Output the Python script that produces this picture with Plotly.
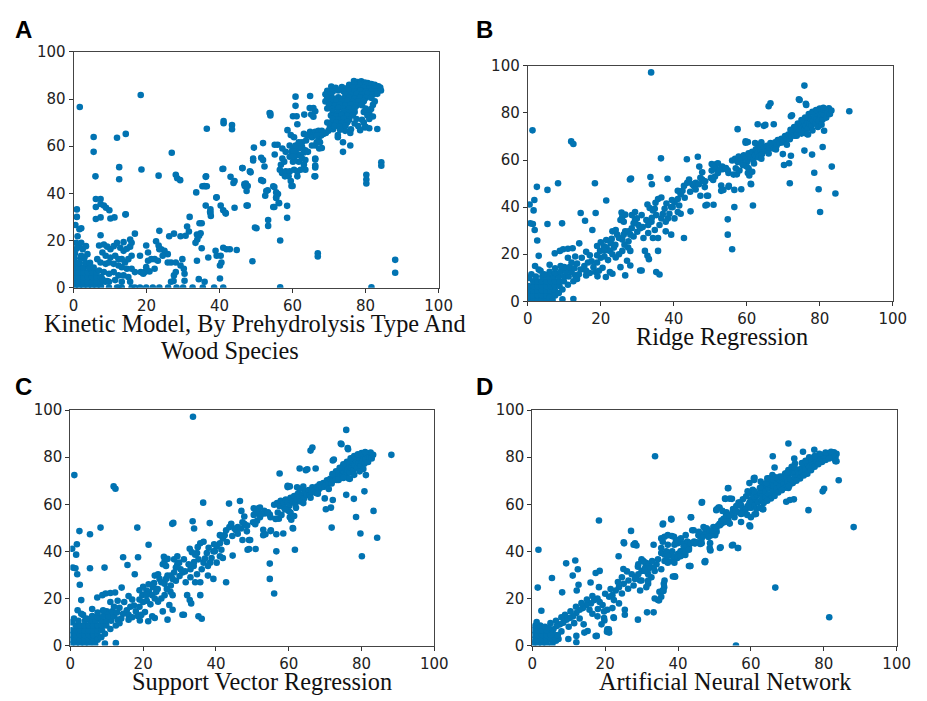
import plotly.graph_objects as go

# ---------------- data (x = model prediction, y = observed) ----------------
kinetic_points = [
    # sparse / outliers
    (1.7,76.6),(18.4,81.7),(5.5,63.9),(5.5,57.6),(6.0,47.2),(11.9,63.6),(14.3,65.2),(12.5,51.1),(12.5,46.0),
    (18.6,50.1),(14.2,31.0),(26.9,57.2),(23.3,47.5),(28.0,47.9),(28.4,46.4),(29.2,45.6),(36.5,67.4),(41.1,70.7),
    (41.1,69.7),(43.4,69.0),(43.4,67.2),(40.8,50.3),(33.6,40.4),(36.2,47.0),(35.3,43.0),(36.1,43.0),(36.5,43.0),
    (39.1,38.2),(36.2,34.8),(37.5,33.2),(37.5,31.7),(40.3,34.8),(41.6,31.8),(43.0,47.0),(43.8,44.4),(44.1,45.2),
    (44.1,33.9),(46.8,43.9),(47.4,34.8),(46.2,50.7),(46.9,43.1),(47.4,41.0),(48.5,48.9),(49.4,59.4),(49.2,54.8),
    (49.2,53.9),(50.1,25.2),(49.0,11.2),(51.9,61.3),(51.4,55.1),(51.9,54.1),(52.3,51.4),(51.4,45.6),(51.9,45.2),
    (52.8,41.0),(52.5,39.0),(53.3,28.7),(53.3,26.2),(53.9,73.8),(53.9,73.0),(55.1,60.6),(55.9,60.6),(55.1,56.5),
    (55.0,42.7),(56.0,39.7),(55.5,38.3),(55.0,34.2),(56.2,36.0),(56.6,20.0),(56.6,0.1),(58.5,34.7),(58.5,29.6),
    (59.7,43.1),(83.2,67.3),(84.3,53.2),(84.3,51.7),(80.2,47.9),(80.2,45.9),(80.2,44.2),(88.1,11.8),(88.1,6.3),
    (81.6,0.1),(66.9,14.6),(66.9,13.2),(66.2,54.4),(66.2,51.0),(66.2,47.2),(48.3,49.3),(53.2,41.3),(54.7,43.0),
    (53.7,74.1),(55.5,40.4),(55.5,38.0),(54.7,34.2),(56.3,35.8),(41.0,32.8),(41.7,31.4),(46.3,50.7),(47.2,44.1),
    (47.7,43.1),(47.7,34.8),(49.7,25.5),(35.8,43.1),(36.3,47.2),(37.4,32.1),(37.6,30.4),(39.2,38.3),(41.0,50.4),
    # middle cloud
    (57.2,54.8),(56.8,52.1),(57.7,53.4),(56.5,50.0),(57.1,48.6),(58.1,49.3),(59.2,49.3),(58.9,47.2),(59.5,45.2),
    (60.0,43.1),(57.9,47.2),(60.4,50.0),(61.3,49.3),(61.3,47.2),(58.6,66.8),(59.5,64.7),(60.4,63.8),(60.8,81.0),
    (60.8,77.1),(60.1,72.7),(61.1,72.7),(61.3,69.3),(63.2,73.4),(64.8,81.3),(64.7,76.2),(65.7,76.2),(66.2,74.8),
    (65.1,73.4),(65.7,72.5),(63.1,65.2),(64.0,64.5),(64.8,66.1),(65.7,65.6),(65.3,63.8),(63.7,62.4),(62.6,61.7),
    (66.2,66.1),(67.1,66.5),(68.0,66.5),(68.4,65.2),(69.1,65.6),(69.8,66.5),(70.2,67.9),(61.3,60.3),(61.7,59.0),
    (62.6,59.6),(60.8,57.9),(61.3,56.2),(62.2,56.2),(63.1,57.3),(63.5,58.3),(64.2,57.6),(65.3,60.3),(66.2,60.3),
    (66.6,61.7),(67.3,59.0),(68.0,59.2),(66.2,54.8),(66.2,51.8),(66.0,47.2),(67.1,63.1),(67.5,61.7),(67.8,64.5),
    (66.6,64.5),(69.5,70.0),(70.7,70.0),(71.5,68.6),(71.1,67.2),(72.4,64.7),(73.8,61.7),(73.8,57.6),(75.8,60.3),
    (74.4,66.5),(75.8,65.6),(79.8,67.9),(81.0,67.6),(57.2,59.0),(58.1,57.6),(59.2,60.3),(60.1,59.0),(59.7,57.6),
    (60.4,57.6),(60.8,60.3),(61.7,61.7),(61.7,53.4),(62.6,54.8),(63.5,54.1),(63.1,52.1),(63.5,50.0),(62.2,50.0),
    (60.1,53.4),(59.2,55.5),(60.4,54.1),(60.1,55.5),(72.4,63.8),
    # dense upper cluster
    (76.8,87.6),(77.8,87.2),(78.8,87.5),(79.8,87.0),(80.6,86.8),(81.6,86.4),
    (75.5,86.0),(77.0,86.2),(78.5,85.9),(80.0,86.1),(81.5,85.6),(82.5,86.0),(83.5,85.4),
    (70.6,85.3),(71.8,84.8),(73.5,85.1),(74.8,84.6),(76.5,84.9),(78.0,84.7),(79.5,84.8),(81.0,84.6),(82.5,84.4),(84.0,84.9),
    (69.5,83.5),(71.0,83.2),(72.5,83.6),(74.0,83.2),(75.5,83.5),(77.0,83.3),(78.5,83.6),(80.0,83.2),(81.5,83.4),(83.0,83.2),(84.2,83.6),
    (69.0,82.0),(70.5,81.8),(74.5,82.0),(76.0,81.7),(77.5,82.1),(79.0,81.8),(80.5,82.2),(82.0,81.8),(83.2,82.2),
    (69.5,80.5),(71.0,80.3),(72.5,80.7),(74.0,80.3),(75.5,80.6),(77.0,80.2),(78.5,80.6),(80.0,80.4),(81.5,80.5),
    (69.0,79.0),(70.5,78.7),(72.0,79.2),(73.5,78.8),(75.0,79.1),(76.5,78.7),(78.0,79.0),(79.5,79.1),(82.5,79.0),
    (70.0,77.5),(71.5,77.2),(73.0,77.6),(74.5,77.3),(76.0,77.5),(77.5,77.2),(79.0,77.4),(82.0,77.5),
    (69.5,76.0),(71.0,75.8),(72.5,76.2),(74.0,75.8),(75.5,76.0),(77.0,76.2),(80.0,76.0),(81.5,75.8),
    (71.0,74.5),(72.5,74.2),(74.0,74.6),(75.5,74.2),(77.0,74.5),(79.5,74.5),(81.0,74.0),
    (70.5,73.0),(72.0,72.7),(73.5,73.2),(75.0,72.8),(76.5,73.0),(80.5,73.0),(82.0,72.6),
    (71.0,71.5),(72.5,71.3),(74.0,71.6),(75.5,71.2),(77.5,71.5),(79.0,71.2),(81.0,71.5),
    (72.0,70.0),(73.5,69.8),(75.0,70.2),(77.0,69.6),(79.5,70.0),(71.5,68.5),(73.0,68.3),(74.5,68.7),(78.0,68.5),(80.0,68.2),
    (73.0,67.0),(76.0,67.2),(78.5,66.8),
    # low-left cloud
    (0.3,0.5),(1.5,0.5),(2.7,0.5),(3.9,0.5),(5.1,0.5),(6.3,0.5),(7.5,0.5),
    (0.3,2.5),(1.5,2.5),(2.7,2.5),(3.9,2.5),(5.1,2.5),(6.3,2.5),(7.5,2.5),(8.7,2.5),
    (0.3,4.5),(1.5,4.5),(2.7,4.5),(3.9,4.5),(5.1,4.5),(6.3,4.5),(7.5,4.5),
    (0.3,6.5),(1.5,6.5),(2.7,6.5),(3.9,6.5),(5.1,6.5),(6.3,6.5),
    (0.3,8.5),(1.5,8.5),(2.7,8.5),(4.2,8.5),(5.5,8.5),(0.3,10.5),(1.5,10.5),(3.2,10.5),(4.5,10.5),
    (0.3,12.5),(2.0,12.5),(0.4,14.5),(0.8,16.5),
    (7.0,17.9),(8.3,18.3),(9.2,17.4),(10.1,16.3),(11.0,17.6),(11.9,19.0),(12.8,16.9),(13.7,15.6),(14.6,16.5),
    (15.5,17.4),(15.9,19.0),(7.9,14.9),(8.8,13.5),(10.1,12.8),(11.4,13.5),(12.3,12.1),(13.2,12.1),(14.1,10.7),
    (15.0,12.1),(15.9,13.5),(6.5,12.1),(7.4,10.7),(8.8,10.1),(9.7,10.7),(11.0,10.1),(12.3,9.4),(13.2,8.7),
    (14.6,8.0),(15.9,8.0),(16.8,6.6),(7.0,7.3),(8.3,6.6),(9.7,5.9),(11.0,6.6),(12.3,5.2),(13.7,5.2),(15.0,4.5),
    (7.9,3.6),(9.2,2.8),(11.4,3.2),(13.2,2.5),(15.5,2.5),(9.7,0.0),(12.3,0.0),(16.8,0.0),
    (19.9,17.9),(20.4,14.9),(22.6,19.7),(23.3,17.9),(24.0,16.3),(24.9,15.6),(25.8,14.2),(24.4,13.5),(23.5,16.3),
    (21.3,12.1),(22.2,12.1),(23.1,11.4),(20.4,11.4),(19.9,8.7),(20.8,6.9),(19.5,6.6),(22.2,8.0),(25.8,10.7),
    (26.7,10.7),(28.0,10.7),(29.8,12.1),(29.3,9.4),(30.2,8.0),(30.4,5.9),(30.4,2.9),(27.5,5.2),(28.0,6.6),
    (27.4,2.8),(26.7,2.5),(25.9,0.0),(23.5,0.0),(21.7,0.0),(19.9,0.0),(18.2,0.0),(15.9,0.0),(13.2,0.0),(11.9,0.0),
    (9.7,2.5),(18.2,13.5),(18.4,6.6),(19.1,5.9),(33.8,11.4),(34.3,3.6),(35.9,2.5),(35.4,0.0),(30.0,0.0),(32.6,0.0),
    (38.5,0.0),(41.0,0.0),(28.2,0.0),
    (26.2,21.8),(27.5,22.9),(29.3,21.8),(30.7,22.0),(31.6,23.8),(31.1,25.9),(31.8,30.0),(23.5,24.1),(34.5,27.3),
    (35.1,27.3),(33.8,22.5),(34.4,22.0),(34.8,23.1),(33.9,20.4),(33.4,19.0),(35.1,16.7),(13.7,19.3),(15.5,20.4),
    (16.8,22.9),(7.4,22.2),
    (36.9,12.8),(38.9,15.6),(39.2,13.5),(40.3,13.5),(40.1,9.4),(40.5,10.7),(41.0,16.9),(41.9,16.3),(42.8,16.3),
    (44.7,16.0),(40.1,3.9),
    (0.9,33.2),(0.9,30.0),(0.5,26.6),(1.6,24.8),(2.1,25.2),(1.1,21.8),(0.7,19.0),(1.6,17.4),
    (6.1,37.6),(7.4,37.6),(6.1,34.2),(7.4,35.5),(8.3,34.8),(8.9,33.9),(9.8,32.8),(6.1,29.1),(7.4,29.8),(10.1,29.3),
    (11.2,29.8),(14.3,31.1),(2.1,19.0),(2.5,16.3),(3.4,17.6),(3.8,14.2),(3.0,12.8),(2.1,13.5),
]

ridge_points = [
    # outliers / sparse
    (33.8,97.2),(1.3,72.6),(11.9,67.9),(12.5,66.8),(0.5,41.1),(1.8,43.0),(2.5,48.6),(1.6,38.6),(0.7,33.1),
    (1.4,32.8),(1.9,30.3),(2.6,25.8),(3.0,19.3),(5.4,47.3),(5.4,32.8),(8.3,50.1),(9.4,33.1),(18.4,50.1),
    (21.5,42.8),(12.5,1.0),(0.4,9.9),(14.5,37.5),(15.7,34.2),(18.6,37.5),(17.7,30.3),(14.1,24.6),(7.4,20.4),
    (8.8,21.4),(9.7,22.1),(11.0,22.3),(12.3,22.5),(28.3,52.1),(28.0,51.7),(33.6,52.8),(34.0,49.7),(36.5,60.7),
    (38.3,52.0),(43.6,60.3),(46.6,61.4),(47.0,57.2),
    # middle band
    (19.8,21.4),(20.9,23.4),(21.6,22.8),(22.5,21.4),(23.2,20.0),(23.6,22.8),(22.7,24.8),(23.2,29.7),(24.1,30.3),
    (24.5,28.3),(25.7,37.7),(25.9,35.9),(26.7,36.8),(25.4,34.5),(26.3,33.8),(25.0,26.9),(25.9,26.2),(26.7,29.7),
    (26.3,28.3),(27.6,29.7),(28.5,31.0),(29.4,34.5),(29.9,35.2),(30.3,32.4),(30.8,31.0),(31.2,36.6),(29.4,37.9),
    (28.5,36.6),(29.0,33.1),(28.1,28.3),(27.6,25.5),(27.5,22.8),(28.1,21.4),(25.9,21.4),(25.0,20.0),(24.1,18.6),
    (25.4,14.5),(27.2,17.2),(28.1,15.2),(26.7,11.0),(23.2,11.7),(21.4,10.3),(20.5,14.2),(19.1,10.6),(22.5,12.4),
    (31.7,26.9),(32.1,21.4),(32.8,19.3),(33.2,17.9),(30.8,13.1),(31.2,13.1),(35.2,12.4),(36.1,11.4),(34.8,39.3),
    (35.2,36.6),(35.7,43.4),(36.6,44.1),(37.5,39.3),(36.6,35.2),(36.1,32.4),(34.8,30.3),(34.3,26.9),(35.7,26.9),
    (33.9,33.8),(33.0,32.4),(33.0,29.0),(35.7,21.4),(32.8,41.1),(33.4,39.6),(34.3,38.6),(35.0,41.8),(38.4,35.2),
    (38.8,37.2),(39.3,40.0),(40.2,42.1),(41.1,43.4),(41.9,45.5),(42.4,46.9),(42.8,49.0),(43.7,50.3),(44.2,51.7),
    (45.1,49.7),(45.5,49.0),(46.0,50.3),(46.9,49.7),(47.3,44.8),(47.8,51.7),(48.2,51.0),(47.8,54.8),(47.3,52.4),
    (48.7,40.7),(49.1,44.8),(41.1,46.9),(41.1,37.9),(39.7,40.0),(40.2,35.2),(39.3,28.3),(37.8,29.7),(37.8,33.8),
    (41.5,40.7),(44.6,38.2),(42.8,26.9),(41.9,37.2),(21.0,19.0),(22.0,17.5),(24.0,24.0),(26.5,24.0),(29.0,27.5),
    (30.0,29.5),(31.5,31.5),(32.5,34.5),(34.0,35.5),(37.0,37.0),(38.0,41.5),(39.5,43.0),(43.0,44.0),(44.5,46.5),
    (46.0,47.5),(48.5,48.5),(19.0,23.5),(20.0,25.0),(21.5,26.0),(23.0,26.5),
    # upper band
    (50.4,58.3),(51.7,58.3),(52.1,58.6),(53.4,56.1),(54.8,55.6),(53.0,49.2),(53.0,46.9),(55.0,48.6),(56.6,47.3),
    (56.6,40.0),(57.3,53.9),(57.5,73.1),(58.5,47.6),(54.8,34.8),(54.8,28.3),(56.0,22.1),(59.7,67.9),(59.7,67.3),
    (61.7,40.7),(61.1,49.9),(66.0,82.8),(66.5,84.1),(63.0,75.2),(64.7,74.5),(65.1,74.9),(67.4,75.2),(72.1,78.6),
    (72.4,79.0),(69.9,62.5),(70.2,57.9),(71.6,58.6),(71.8,50.1),(72.1,61.8),(74.5,85.5),(75.8,91.6),(76.3,83.4),
    (75.8,64.0),(77.9,62.3),(78.5,54.6),(79.7,47.6),(80.1,37.9),(80.8,65.5),(83.3,57.2),(84.3,45.8),(81.2,72.4),
    (88.1,80.7),(73.2,70.3),(48.6,51.0),(50.2,52.4),(51.3,53.0),(50.8,51.5),(49.4,44.8),(49.1,41.0),(50.9,41.0),
    (53.6,47.3),(55.1,49.0),(56.4,53.8),(60.3,54.5),(60.7,53.4),(61.2,49.7),(60.3,67.6),(76.8,70.8),(73.7,70.3),
    (74.3,85.8),(76.2,83.9),(50.4,55.5),(51.7,56.1),(52.1,54.5),(53.3,57.2),(54.3,56.6),(55.0,54.5),(52.5,55.9),
    (51.0,57.0),
    (56.0,59.8),(56.8,60.5),(57.5,59.2),(57.8,61.5),(58.5,60.2),(58.8,58.4),(59.2,62.0),(59.8,60.8),(60.2,59.5),
    (60.5,62.8),(61.0,61.2),(61.5,63.5),(61.8,60.2),(62.3,62.0),(62.5,64.5),(63.0,63.0),(63.2,61.2),(63.8,64.2),
    (64.2,62.5),(64.5,65.5),(65.0,64.0),(65.5,66.0),(65.8,63.8),(66.2,65.0),(66.5,67.2),(67.0,66.0),(67.5,64.8),
    (67.8,67.5),(68.2,66.2),(68.5,68.5),(69.0,67.2),(69.5,69.0),(69.8,67.5),(70.2,68.5),(70.5,70.2),(71.0,69.0),
    (71.4,70.8),(71.8,68.8),(72.2,70.2),(72.5,72.0),(73.0,70.5),(73.4,72.5),(73.8,71.0),(74.2,73.0),(74.5,74.5),
    (74.8,72.0),(75.2,73.8),(75.5,75.5),(75.8,72.8),(76.2,74.5),(76.5,76.5),(76.8,73.5),(77.2,75.5),(77.5,77.5),
    (77.8,74.5),(78.2,76.5),(78.5,78.5),(78.8,75.5),(79.2,77.5),(79.5,79.5),(79.8,76.5),(80.2,78.5),(80.5,80.5),
    (80.8,77.2),(81.2,79.2),(81.5,81.2),(81.8,78.0),(82.2,80.0),(82.5,82.0),(82.8,79.5),(83.2,81.0),(77.0,79.5),
    (78.0,80.5),(79.0,81.2),(80.0,81.8),(81.0,82.2),(76.0,78.0),(75.0,77.0),(74.0,75.5),(73.0,74.0),(72.0,72.8),
    (76.5,71.0),(78.0,72.5),(79.5,74.0),(80.5,75.0),(75.0,71.2),(71.0,66.5),(68.0,64.5),(66.0,62.8),(64.0,60.5),
    (62.0,58.5),(60.0,57.2),(58.0,55.5),(59.0,57.8),(60.5,56.5),(61.5,55.0),(57.0,56.5),(63.0,66.5),(64.0,67.5),
    (62.3,67.2),
    # low band
    (0.3,0.5),(1.5,0.5),(2.7,0.5),(3.9,0.5),(5.1,0.5),(0.3,2.5),(1.5,2.5),(2.7,2.5),(3.9,2.5),(5.1,2.5),(6.3,2.5),
    (0.3,4.5),(1.5,4.5),(2.7,4.5),(3.9,4.5),(5.1,4.5),(6.3,4.5),(7.5,4.5),(0.3,6.5),(1.5,6.5),(2.7,6.5),(3.9,6.5),
    (5.1,6.5),(6.3,6.5),(7.5,6.5),(8.7,6.5),(1.5,8.5),(2.7,8.5),(3.9,8.5),(5.1,8.5),(6.3,8.5),(7.5,8.5),(8.7,8.5),
    (9.9,8.5),(4.0,10.5),(5.5,10.5),(7.0,10.5),(8.5,10.5),(10.0,10.5),(11.2,10.5),(6.0,12.5),(7.5,12.0),(9.0,12.5),
    (10.5,12.5),(12.0,12.5),(13.0,11.0),(10.0,14.5),(11.5,14.5),(12.8,14.0),(13.5,16.0),(14.5,13.5),(15.5,15.0),
    (16.5,16.5),(16.0,13.0),(17.5,17.0),(18.0,14.5),(19.0,16.5),(12.0,16.5),(11.0,18.5),(13.0,19.0),(14.8,18.5),
    (9.0,15.0),(7.5,14.0),(6.0,15.5),(3.5,13.0),(4.5,11.5),(2.2,10.5),(1.0,11.5),(6.0,1.5),(7.5,2.5),(8.5,3.5),
    (9.5,5.0),(11.0,7.0),(12.5,8.5),(13.5,9.5),(14.0,11.5),(9.5,0.8),(6.8,0.5),(3.0,13.5),(2.0,15.0),(16.0,11.0),
    (17.0,12.0),(18.5,12.5),(19.5,13.0),(20.0,18.5),(21.0,21.5),(17.0,19.5),(16.0,21.0),(19.0,19.5),
]

svr_points = [
    # outliers / sparse
    (33.7,97.2),(1.1,72.4),(11.9,67.6),(12.4,66.6),(0.5,41.1),(1.8,43.0),(2.5,48.6),(1.6,38.6),(0.7,33.1),
    (1.4,32.8),(1.9,30.3),(2.6,25.8),(3.0,19.3),(5.4,47.3),(5.4,32.8),(8.3,50.1),(9.4,33.1),(18.4,50.1),
    (21.5,42.8),(12.5,1.0),(0.4,9.9),(14.5,37.5),(15.7,34.2),(18.6,37.5),(17.7,30.3),(14.1,24.6),(7.4,20.4),
    (8.8,21.4),(9.7,22.1),(11.0,22.3),(12.3,22.5),(28.3,52.1),(28.0,51.7),(33.6,52.8),(34.0,49.7),(36.5,60.7),
    (38.3,52.0),(43.6,60.3),(46.6,61.4),(47.0,57.2),
    # middle band
    (19.8,21.4),(20.9,23.4),(21.6,22.8),(22.5,21.4),(23.2,20.0),(23.6,22.8),(22.7,24.8),(23.2,29.7),(24.1,30.3),
    (24.5,28.3),(25.7,37.7),(25.9,35.9),(26.7,36.8),(25.4,34.5),(26.3,33.8),(25.0,26.9),(25.9,26.2),(26.7,29.7),
    (26.3,28.3),(27.6,29.7),(28.5,31.0),(29.4,34.5),(29.9,35.2),(30.3,32.4),(30.8,31.0),(31.2,36.6),(29.4,37.9),
    (28.5,36.6),(29.0,33.1),(28.1,28.3),(27.6,25.5),(27.5,22.8),(28.1,21.4),(25.9,21.4),(25.0,20.0),(24.1,18.6),
    (25.4,14.5),(27.2,17.2),(28.1,15.2),(26.7,11.0),(23.2,11.7),(21.4,10.3),(20.5,14.2),(19.1,10.6),(22.5,12.4),
    (31.7,26.9),(32.1,21.4),(32.8,19.3),(33.2,17.9),(30.8,13.1),(31.2,13.1),(35.2,12.4),(36.1,11.4),(34.8,39.3),
    (35.2,36.6),(35.7,43.4),(36.6,44.1),(37.5,39.3),(36.6,35.2),(36.1,32.4),(34.8,30.3),(34.3,26.9),(35.7,26.9),
    (33.9,33.8),(33.0,32.4),(33.0,29.0),(35.7,21.4),(32.8,41.1),(33.4,39.6),(34.3,38.6),(35.0,41.8),(38.4,35.2),
    (38.8,37.2),(39.3,40.0),(40.2,42.1),(41.1,43.4),(41.9,45.5),(42.4,46.9),(42.8,49.0),(43.7,50.3),(44.2,51.7),
    (45.1,49.7),(45.5,49.0),(46.0,50.3),(46.9,49.7),(47.3,44.8),(47.8,51.7),(48.2,51.0),(47.8,54.8),(47.3,52.4),
    (48.7,40.7),(49.1,44.8),(41.1,46.9),(41.1,37.9),(39.7,40.0),(40.2,35.2),(39.3,28.3),(37.8,29.7),(37.8,33.8),
    (41.5,40.7),(44.6,38.2),(42.8,26.9),(41.9,37.2),(21.0,19.0),(22.0,17.5),(24.0,24.0),(26.5,24.0),(29.0,27.5),
    (30.0,29.5),(31.5,31.5),(32.5,34.5),(34.0,35.5),(37.0,37.0),(38.0,41.5),(39.5,43.0),(43.0,44.0),(44.5,46.5),
    (46.0,47.5),(48.5,48.5),(19.0,23.5),(20.0,25.0),(21.5,26.0),(23.0,26.5),
    # upper band
    (50.4,58.3),(51.7,58.3),(52.1,58.6),(53.4,56.1),(54.8,55.6),(53.0,49.2),(53.0,46.9),(55.0,48.6),(56.6,47.3),
    (56.6,40.0),(57.3,53.9),(57.5,73.1),(58.5,47.6),(54.8,34.8),(54.8,28.3),(56.0,22.1),(59.7,67.9),(59.7,67.3),
    (61.7,40.7),(61.1,49.9),(66.0,82.8),(66.5,84.1),(63.0,75.2),(64.7,74.5),(65.1,74.9),(67.4,75.2),(72.1,78.6),
    (72.4,79.0),(69.9,62.5),(70.2,57.9),(71.6,58.6),(71.8,50.1),(72.1,61.8),(74.5,85.5),(75.8,91.6),(76.3,83.4),
    (75.8,64.0),(77.9,62.3),(78.5,54.6),(79.7,47.6),(80.1,37.9),(80.8,65.5),(83.3,57.2),(84.3,45.8),(81.2,72.4),
    (88.2,81.0),(73.2,70.3),(48.6,51.0),(50.2,52.4),(51.3,53.0),(50.8,51.5),(49.4,44.8),(49.1,41.0),(50.9,41.0),
    (53.6,47.3),(55.1,49.0),(56.4,53.8),(60.3,54.5),(60.7,53.4),(61.2,49.7),(60.3,67.6),(76.8,70.8),(73.7,70.3),
    (74.3,85.8),(76.2,83.9),(50.4,55.5),(51.7,56.1),(52.1,54.5),(53.3,57.2),(54.3,56.6),(55.0,54.5),(52.5,55.9),
    (51.0,57.0),
    (56.0,59.8),(56.8,60.5),(57.5,59.2),(57.8,61.5),(58.5,60.2),(58.8,58.4),(59.2,62.0),(59.8,60.8),(60.2,59.5),
    (60.5,62.8),(61.0,61.2),(61.5,63.5),(61.8,60.2),(62.3,62.0),(62.5,64.5),(63.0,63.0),(63.2,61.2),(63.8,64.2),
    (64.2,62.5),(64.5,65.5),(65.0,64.0),(65.5,66.0),(65.8,63.8),(66.2,65.0),(66.5,67.2),(67.0,66.0),(67.5,64.8),
    (67.8,67.5),(68.2,66.2),(68.5,68.5),(69.0,67.2),(69.5,69.0),(69.8,67.5),(70.2,68.5),(70.5,70.2),(71.0,69.0),
    (71.4,70.8),(71.8,68.8),(72.2,70.2),(72.5,72.0),(73.0,70.5),(73.4,72.5),(73.8,71.0),(74.2,73.0),(74.5,74.5),
    (74.8,72.0),(75.2,73.8),(75.5,75.5),(75.8,72.8),(76.2,74.5),(76.5,76.5),(76.8,73.5),(77.2,75.5),(77.5,77.5),
    (77.8,74.5),(78.2,76.5),(78.5,78.5),(78.8,75.5),(79.2,77.5),(79.5,79.5),(79.8,76.5),(80.2,78.5),(80.5,80.5),
    (80.8,77.2),(81.2,79.2),(81.5,81.2),(81.8,78.0),(82.2,80.0),(82.5,82.0),(82.8,79.5),(83.2,81.0),(77.0,79.5),
    (78.0,80.5),(79.0,81.2),(80.0,81.8),(81.0,82.2),(76.0,78.0),(75.0,77.0),(74.0,75.5),(73.0,74.0),(72.0,72.8),
    (76.5,71.0),(78.0,72.5),(79.5,74.0),(80.5,75.0),(75.0,71.2),(71.0,66.5),(68.0,64.5),(66.0,62.8),(64.0,60.5),
    (62.0,58.5),(60.0,57.2),(58.0,55.5),(59.0,57.8),(60.5,56.5),(61.5,55.0),(57.0,56.5),(63.0,66.5),(64.0,67.5),
    (62.3,67.2),
    # low band
    (0.3,0.5),(1.5,0.5),(2.7,0.5),(3.9,0.5),(5.1,0.5),(0.3,2.5),(1.5,2.5),(2.7,2.5),(3.9,2.5),(5.1,2.5),(6.3,2.5),
    (0.3,4.5),(1.5,4.5),(2.7,4.5),(3.9,4.5),(5.1,4.5),(6.3,4.5),(7.5,4.5),(0.3,6.5),(1.5,6.5),(2.7,6.5),(3.9,6.5),
    (5.1,6.5),(6.3,6.5),(7.5,6.5),(8.7,6.5),(1.5,8.5),(2.7,8.5),(3.9,8.5),(5.1,8.5),(6.3,8.5),(7.5,8.5),(8.7,8.5),
    (9.9,8.5),(4.0,10.5),(5.5,10.5),(7.0,10.5),(8.5,10.5),(10.0,10.5),(11.2,10.5),(6.0,12.5),(7.5,12.0),(9.0,12.5),
    (10.5,12.5),(12.0,12.5),(13.0,11.0),(10.0,14.5),(11.5,14.5),(12.8,14.0),(13.5,16.0),(14.5,13.5),(15.5,15.0),
    (16.5,16.5),(16.0,13.0),(17.5,17.0),(18.0,14.5),(19.0,16.5),(12.0,16.5),(11.0,18.5),(13.0,19.0),(14.8,18.5),
    (9.0,15.0),(7.5,14.0),(6.0,15.5),(3.5,13.0),(4.5,11.5),(2.2,10.5),(1.0,11.5),(6.0,1.5),(7.5,2.5),(8.5,3.5),
    (9.5,5.0),(11.0,7.0),(12.5,8.5),(13.5,9.5),(14.0,11.5),(9.5,0.8),(6.8,0.5),(3.0,13.5),(2.0,15.0),(16.0,11.0),
    (17.0,12.0),(18.5,12.5),(19.5,13.0),(20.0,18.5),(21.0,21.5),(17.0,19.5),(16.0,21.0),(19.0,19.5),
]

ann_points = [
    # outliers / sparse
    (33.7,80.4),(1.7,40.7),(1.5,24.6),(5.4,28.7),(2.5,14.8),(8.2,22.6),(9.3,34.9),(11.8,36.1),(12.5,32.4),
    (11.1,29.7),(12.7,25.8),(12.2,23.4),(16.0,26.8),(17.4,30.8),(18.5,31.7),(18.3,53.1),(18.3,24.8),(17.4,4.0),
    (20.5,5.8),(21.0,6.9),(19.8,10.6),(22.3,12.0),(23.7,37.9),(25.4,15.2),(25.4,13.1),(25.2,43.4),(27.1,48.7),
    (28.1,43.0),(28.6,42.5),(29.0,11.0),(31.5,14.1),(33.3,14.1),(34.8,19.2),(35.8,51.4),(38.2,53.5),(38.9,46.2),
    (39.1,29.4),(36.2,24.8),(36.0,23.2),(43.6,54.5),(43.4,33.8),(46.5,60.7),(47.4,35.4),(48.7,41.4),(48.9,40.4),
    (51.7,41.7),(54.8,42.5),(56.5,41.4),(53.7,66.8),(53.0,62.3),(54.8,62.3),(55.9,0.0),(59.8,50.6),(60.8,71.0),
    (61.0,71.3),(63.4,57.9),(66.0,80.4),(66.5,75.6),(66.7,24.6),(70.3,85.8),(69.7,61.1),(70.7,61.8),(71.8,62.1),
    (71.9,79.4),(74.3,82.3),(75.8,57.5),(77.4,83.2),(79.7,65.5),(80.1,66.6),(81.5,12.0),(84.1,70.2),(88.2,50.3),
    (83.2,78.3),(83.2,80.0),
    # low / middle band
    (34.1,34.5),(34.5,36.6),(33.6,31.7),(31.8,30.3),(30.0,31.7),(29.6,27.6),(27.3,30.3),(27.8,25.5),(26.4,27.6),
    (26.3,24.1),(24.6,29.0),(25.1,26.2),(23.8,24.8),(24.6,22.1),(22.9,23.4),(22.0,21.4),(21.1,20.7),(22.4,19.3),
    (23.8,17.9),(22.0,15.9),(20.6,15.2),(19.7,14.5),(19.3,17.2),(17.9,20.0),(17.0,19.3),(16.1,17.9),(15.7,15.2),
    (14.8,17.2),(13.9,15.9),(13.0,15.2),(12.1,13.8),(11.2,12.4),(10.3,11.7),(9.4,11.0),(8.5,9.7),(7.6,9.0),
    (6.7,8.3),(5.8,6.9),(4.9,6.2),(4.0,5.5),(3.1,4.1),(2.2,3.4),(1.4,2.8),(0.5,1.4),(35.4,41.4),(36.3,38.6),
    (37.2,42.8),(37.6,39.3),(38.5,35.9),(39.9,37.9),(40.8,40.0),(41.7,42.8),(42.6,44.1),(43.0,41.4),(39.4,44.1),
    (35.8,44.1),(34.9,22.8),(35.4,20.7),(34.5,19.3),(33.6,20.0),(31.8,26.2),(32.7,29.0),(36.1,26.2),(35.8,23.4),
    (22.4,11.7),(20.6,6.9),(21.1,5.5),(17.7,4.1),(15.2,6.2),(14.1,9.0),(14.3,5.5),(12.1,4.1),(9.9,2.8),(12.1,1.4),
    (7.2,2.8),(19.7,11.7),(19.0,9.0),(17.9,12.4),(28.2,43.4),(27.8,42.8),(25.1,43.9),(30.5,35.9),(30.0,36.6),
    (31.8,34.8),(39.2,29.2),(43.3,33.8),(47.3,35.6),(29.0,33.5),(31.0,33.0),(28.5,29.0),(26.0,31.5),(25.0,32.5),
    (23.5,27.0),(21.5,24.0),(20.0,22.0),(18.5,18.5),(16.5,21.0),(15.0,19.5),(13.5,18.0),(12.0,16.5),(10.5,14.5),
    (9.0,13.0),(8.0,12.0),(6.5,10.5),(5.0,9.5),(10.0,8.0),(8.0,6.0),(6.0,4.5),(11.5,9.5),(13.0,11.5),(16.5,13.5),
    (18.0,15.5),(37.0,36.0),(38.5,38.0),(40.0,39.0),(41.5,40.0),(42.0,38.5),(44.5,43.5),(45.6,46.9),(46.1,46.2),
    (42.5,44.1),(43.4,43.4),(44.7,43.4),(41.6,42.1),(42.5,41.7),(40.7,40.0),(41.6,38.6),(39.8,37.2),(40.7,37.9),
    (38.4,40.0),(44.3,49.0),
    (29.1,34.5),(30.0,35.9),(31.0,35.2),(32.1,34.5),(32.9,35.9),(33.3,33.1),(31.9,32.5),(30.9,31.7),(29.1,30.3),
    (28.2,28.3),(30.0,27.6),(31.8,27.6),(31.3,24.8),(29.6,23.4),(36.3,27.6),(35.9,23.4),(38.6,29.3),(35.4,32.4),
    (36.3,35.9),(37.2,35.2),(35.4,39.3),(36.8,40.0),(37.2,38.0),(33.3,42.8),(35.4,45.5),(36.3,46.2),(37.2,46.9),
    (38.3,46.5),(39.0,42.8),(39.9,43.5),(40.8,43.9),(41.6,42.1),(42.1,40.1),(43.0,40.7),(43.5,43.5),(44.4,44.2),
    (45.2,43.9),(46.1,43.1),(46.5,45.5),(47.0,46.9),(47.5,48.3),(48.4,46.2),(48.8,43.5),(48.8,40.7),(49.7,48.9),
    (50.2,46.9),(50.6,48.3),(51.5,41.4),(51.5,51.1),(52.0,51.8),(52.9,52.5),(53.8,53.2),(54.2,51.8),(55.1,42.8),
    (56.4,41.4),(55.5,54.5),(56.4,56.6),(57.3,55.9),(58.2,58.0),(59.1,59.3),(59.6,60.7),(60.0,62.1),(60.9,60.7),
    (61.4,63.4),(62.3,64.8),(63.2,66.2),(64.1,66.9),(65.0,68.3),(65.9,69.0),(66.8,69.7),(67.7,70.3),(68.6,71.7),
    (69.4,73.1),(70.3,74.5),(71.2,75.9),(72.1,77.3),(51.1,58.6),(50.6,57.9),(53.3,56.6),(54.2,55.2),(55.1,58.0),
    (56.0,59.3),(56.9,60.7),(57.8,62.1),(58.7,63.4),(59.6,64.8),(60.5,66.2),(59.1,65.5),(60.9,70.3),(62.7,69.7),
    (63.2,68.3),(59.6,69.0),(65.0,71.0),(65.9,72.4),(66.8,67.6),(67.7,66.2),(68.6,68.3),(69.4,69.7),(70.3,66.9),
    (71.2,69.0),(72.1,70.3),(63.6,62.1),(63.2,57.9),(61.4,55.9),(59.6,51.1),(57.3,52.5),(53.8,66.9),(54.2,62.4),
    (52.9,62.4),(46.6,61.0),(43.5,54.5),(38.1,53.8),(35.9,51.8),(39.0,35.2),(47.5,35.9),(43.0,33.8),(46.5,43.5),
    (49.7,50.3),(47.9,49.7),(45.7,48.3),(43.9,49.0),(42.1,46.9),(40.8,45.5),(39.9,44.8),
    # low-left blob
    (0.3,0.5),(1.5,0.5),(2.7,0.5),(3.9,0.5),(0.3,2.5),(1.5,2.5),(2.7,2.5),(3.9,2.5),(5.1,2.5),(0.3,4.5),
    (1.5,4.5),(2.7,4.5),(3.9,4.5),(5.1,4.5),(0.3,6.5),(1.5,6.5),(2.7,6.5),(3.9,6.5),(0.8,8.5),(2.2,8.5),
    (3.5,8.0),(1.2,10.0),(5.5,0.5),(6.5,2.0),(7.0,4.5),(4.5,7.5),
    # upper band
    (47.0,50.3),(47.8,49.7),(48.7,48.3),(49.2,46.9),(48.3,46.2),(49.6,49.0),(50.5,49.7),(51.0,51.0),(51.4,51.7),
    (51.9,53.1),(52.5,53.8),(53.2,55.2),(54.1,55.4),(55.0,56.6),(55.9,57.2),(51.4,58.6),(52.2,57.2),(50.5,57.5),
    (56.6,60.7),(57.3,59.6),(57.7,58.2),(58.6,57.9),(58.2,56.6),(59.5,59.6),(60.4,60.7),(61.3,62.1),(60.8,63.4),
    (61.7,64.1),(62.6,64.8),(63.1,63.4),(64.0,65.5),(64.9,66.9),(65.3,68.3),(65.8,69.0),(66.2,67.6),(67.1,69.2),
    (68.0,70.1),(68.5,69.0),(69.4,71.0),(70.3,72.4),(71.1,73.4),(72.0,73.8),(72.9,74.5),(73.8,75.2),(74.7,75.9),
    (75.6,77.0),(76.5,77.9),(77.4,78.9),(78.3,80.0),(79.2,80.7),(80.1,81.1),(81.0,81.4),(81.9,81.7),(82.8,82.1),
    (83.5,81.4),
    (57.5,56.0),(59.0,55.5),(60.0,58.5),(61.0,59.5),(62.0,61.0),(63.0,61.8),(64.0,63.0),(65.0,64.2),(66.0,65.5),
    (67.0,66.5),(68.0,67.5),(69.0,68.5),(70.0,69.5),(71.0,70.5),(72.0,71.5),(73.0,72.5),(74.0,73.5),(75.0,74.5),
    (76.0,75.8),(77.0,76.8),(78.0,78.0),(79.0,79.0),(80.0,79.8),(81.0,80.2),(82.0,80.5),(83.0,79.5),(83.5,78.3),
    (79.5,78.0),(77.5,76.0),(75.5,73.0),(73.5,71.0),(71.5,69.0),(69.5,67.0),(67.5,65.0),(65.5,62.5),(63.5,60.5),
    (61.5,58.0),(60.0,54.5),(61.0,55.8),(62.5,58.5),(64.5,61.5),(66.5,63.5),(68.5,66.0),(70.5,67.8),(72.5,70.0),
    (74.5,72.2),(76.5,74.5),(78.5,77.0),(80.5,78.8),(82.5,81.0),(81.5,79.5),(79.8,80.8),(78.8,81.5),(77.5,80.5),
    (76.0,79.0),(74.0,77.5),(72.0,75.5),(70.0,73.5),(68.0,71.8),(66.0,70.5),(64.2,69.0),(62.5,67.0),(61.0,65.5),
    (64.5,71.0),(66.8,71.5),(75.0,78.5),(76.0,80.0),(80.5,82.0),(82.0,82.3),
]

title_lines = ["Kinetic Model, By Prehydrolysis Type And", "Wood Species", "Ridge Regression",
               "Support Vector Regression", "Artificial Neural Network"]
panel_letters = ["A", "B", "C", "D"]
tick_values = [0, 20, 40, 60, 80, 100]

# ---------------- figure ----------------
W, H = 927, 701
BLUE = "#0173b2"

# plot-area boxes in pixels: (left, right, top, bottom)
boxes = [(70, 442.7, 44, 286), (533.7, 906.3, 58.3, 300),
         (66.7, 438.3, 411.7, 653.3), (538.3, 910.3, 411.7, 653.3)]
datasets = [kinetic_points, ridge_points, svr_points, ann_points]

fig = go.Figure()
layout = dict(width=W, height=H, margin=dict(l=0, r=0, t=0, b=0),
              paper_bgcolor="white", plot_bgcolor="white", showlegend=False)

for i, (pts, box) in enumerate(zip(datasets, boxes)):
    xs = [p[0] for p in pts]
    ys = [p[1] for p in pts]
    n = "" if i == 0 else str(i + 1)
    fig.add_trace(go.Scatter(x=xs, y=ys, mode="markers", xaxis="x" + n, yaxis="y" + n,
                             marker=dict(size=6.6, color=BLUE, line=dict(width=0)),
                             cliponaxis=True, hoverinfo="skip"))
    l, r, t, b = box
    axis_common = dict(range=[0, 100], tickvals=tick_values, ticks="outside", ticklen=4,
                       tickwidth=1, tickcolor="#333", showline=True, linecolor="#444",
                       linewidth=1, mirror=True, showgrid=False, zeroline=False,
                       tickfont=dict(family="DejaVu Sans", size=15, color="#222"))
    layout["xaxis" + n] = dict(axis_common, domain=[l / W, r / W], anchor="y" + n)
    layout["yaxis" + n] = dict(axis_common, domain=[1 - b / H, 1 - t / H], anchor="x" + n)

fig.update_layout(**layout)

letter_pos = [(8, 21), (479, 21), (8, 387), (479, 387)]
for letter, (px, py) in zip(panel_letters, letter_pos):
    fig.add_annotation(text="<b>%s</b>" % letter, x=px / W, y=1 - py / H, xref="paper", yref="paper",
                       xanchor="left", yanchor="middle", showarrow=False,
                       font=dict(family="Liberation Sans", size=24, color="black"))

title_pos = [(255, 322.5), (229.5, 350.5), (731.7, 336.5), (262.5, 690.5), (735.8, 690.5)]
for title, (px, py) in zip(title_lines, title_pos):
    fig.add_annotation(text=title, x=px / W, y=1 - py / H, xref="paper", yref="paper",
                       xanchor="center", yanchor="middle", showarrow=False, borderpad=0,
                       font=dict(family="Liberation Serif", size=24.3, color="#111"))

fig.write_html("out.html")
